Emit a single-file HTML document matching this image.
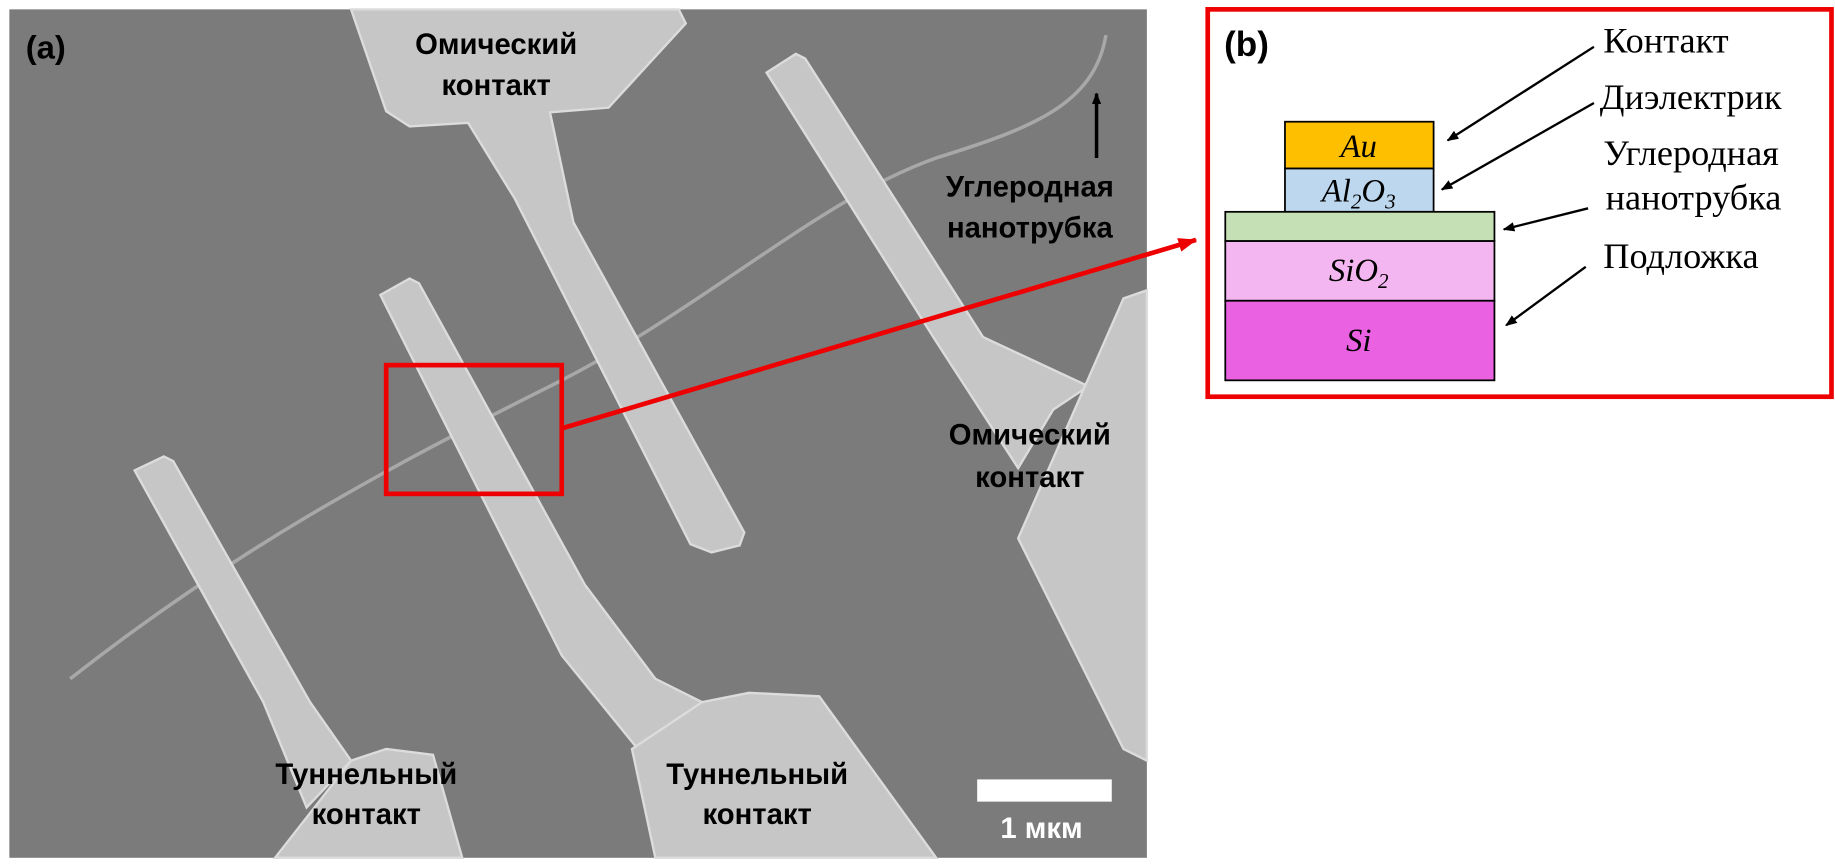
<!DOCTYPE html>
<html><head><meta charset="utf-8"><style>
html,body{margin:0;padding:0;background:#fff;width:1835px;height:866px;overflow:hidden}
svg{display:block}
.b{font-family:"Liberation Sans",sans-serif;font-weight:bold;font-size:25px;fill:#000;text-anchor:middle}
.s{font-family:"Liberation Serif",serif;font-size:31px;fill:#000}
.m{font-family:"Liberation Serif",serif;font-style:italic;font-size:28px;fill:#000;text-anchor:middle}
</style></head><body>
<svg width="1835" height="866" viewBox="0 0 1568 740" preserveAspectRatio="none">
<defs>
<marker id="ak" markerWidth="10" markerHeight="8" refX="9" refY="4" orient="auto" markerUnits="userSpaceOnUse"><path d="M0,0 L10,4 L0,8 z" fill="#000"/></marker>
<marker id="ar" markerWidth="16" markerHeight="12" refX="15" refY="6" orient="auto" markerUnits="userSpaceOnUse"><path d="M0,0 L16,6 L0,12 z" fill="#e00"/></marker>
</defs>
<rect x="0" y="0" width="1568" height="740" fill="#fff"/>
<rect x="8" y="8" width="972" height="725" fill="#7b7b7b"/>
<g fill="#c6c6c6" stroke="#dcdcdc" stroke-width="2">
<path d="M60,580 C200,470 330,400 470,330 C600,265 700,170 800,135 C880,110 935,90 945,30" fill="none" stroke="#a8a8a8" stroke-width="3"/>
<polygon points="300,8 580,8 586,20 520,92 470,96 490,190 636,455 632,466 608,472 590,465 440,170 400,105 350,108 330,95"/>
<polygon points="655,62 680,46 688,50 840,288 930,330 900,350 870,400 800,292"/>
<polygon points="870,460 960,255 980,248 980,650 960,640"/>
<polygon points="325,252 350,238 358,242 500,500 560,580 600,600 545,640 480,560"/>
<polygon points="540,640 600,600 640,592 700,595 800,733 560,733"/>
<polygon points="115,402 140,390 148,394 265,600 300,650 262,690 225,600"/>
<polygon points="235,733 300,650 330,640 370,645 395,733"/>
</g>
<rect x="330" y="312" width="150" height="110" fill="none" stroke="#e00" stroke-width="4"/>
<line x1="480" y1="366" x2="1022" y2="205" stroke="#e00" stroke-width="4" marker-end="url(#ar)"/>
<text x="22" y="50" class="b" style="font-size:28px;text-anchor:start">(a)</text>
<text x="424" y="46" class="b">Омический</text><text x="424" y="81" class="b">контакт</text>
<text x="880" y="168" class="b">Углеродная</text><text x="880" y="203" class="b">нанотрубка</text>
<text x="880" y="380" class="b">Омический</text><text x="880" y="416" class="b">контакт</text>
<text x="313" y="670" class="b">Туннельный</text><text x="313" y="704" class="b">контакт</text>
<text x="647" y="670" class="b">Туннельный</text><text x="647" y="704" class="b">контакт</text>
<line x1="937" y1="135" x2="937" y2="80" stroke="#000" stroke-width="3" marker-end="url(#ak)"/>
<rect x="835" y="666" width="115" height="19" fill="#fff"/>
<text x="890" y="716" class="b" style="fill:#fff">1 мкм</text>
<rect x="1032" y="8" width="533" height="331" fill="#fff" stroke="#e00" stroke-width="4"/>
<text x="1046" y="48" class="b" style="font-size:30px;text-anchor:start">(b)</text>
<g stroke="#000" stroke-width="1.5">
<rect x="1098" y="104" width="127" height="40" fill="#fdbf00"/>
<rect x="1098" y="144" width="127" height="37" fill="#bdd7ee"/>
<rect x="1047" y="181" width="230" height="25" fill="#c5e0b4"/>
<rect x="1047" y="206" width="230" height="51" fill="#f4b6f0"/>
<rect x="1047" y="257" width="230" height="68" fill="#ea62e2"/>
</g>
<text x="1161" y="134" class="m">Au</text>
<text x="1161" y="172" class="m">Al<tspan font-size="18" dy="6">2</tspan><tspan dy="-6">O</tspan><tspan font-size="18" dy="6">3</tspan></text>
<text x="1161" y="240" class="m">SiO<tspan font-size="18" dy="6">2</tspan></text>
<text x="1161" y="300" class="m">Si</text>
<g stroke="#000" stroke-width="2">
<line x1="1362" y1="40" x2="1237" y2="120" marker-end="url(#ak)"/>
<line x1="1362" y1="88" x2="1232" y2="162" marker-end="url(#ak)"/>
<line x1="1357" y1="178" x2="1285" y2="196" marker-end="url(#ak)"/>
<line x1="1355" y1="228" x2="1287" y2="278" marker-end="url(#ak)"/>
</g>
<text x="1370" y="45" class="s">Контакт</text>
<text x="1367" y="93" class="s">Диэлектрик</text>
<text x="1370" y="141" class="s">Углеродная</text>
<text x="1372" y="179" class="s">нанотрубка</text>
<text x="1370" y="229" class="s">Подложка</text>
</svg>
</body></html>
